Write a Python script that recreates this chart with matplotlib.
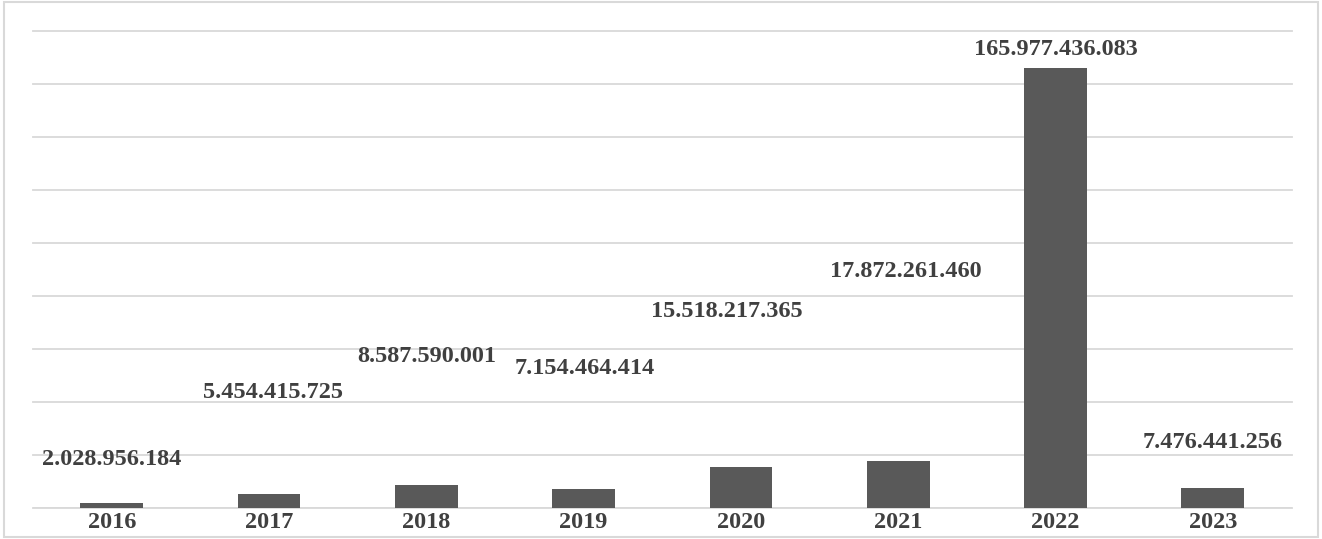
import matplotlib.pyplot as plt
from matplotlib.patches import Rectangle

years = ["2016", "2017", "2018", "2019", "2020", "2021", "2022", "2023"]
values = [2028956184, 5454415725, 8587590001, 7154464414,
          15518217365, 17872261460, 165977436083, 7476441256]

# where the data labels sit (moved by hand in the original chart)
label_x_shift = [0.0, 0.025, 0.0, 0.01, -0.09, 0.05, 0.0, 0.0]
label_y = [18.3e9, 43.5e9, 57.0e9, 52.5e9, 74.0e9, 89.4e9, 173.2e9, 24.9e9]


def fmt(v):
    return f"{v:,}".replace(",", ".")


plt.rcParams['font.family'] = ['Liberation Serif', 'DejaVu Serif']

fig = plt.figure(figsize=(13.22, 5.39), dpi=100)
ax = fig.add_axes([0.025, 0.0575, 0.952, 0.885])

x = range(len(years))
ax.bar(x, values, width=0.4, color="#595959", zorder=3)

for i, v in enumerate(values):
    ax.text(i + label_x_shift[i], label_y[i], fmt(v), ha="center", va="center",
            fontsize=17.5, fontweight="bold", color="#404040", zorder=4)

ax.set_xlim(-0.5, len(years) - 0.5)
ax.set_ylim(0, 180e9)
ax.set_yticks([i * 20e9 for i in range(10)])
ax.set_yticklabels([])
ax.tick_params(axis="y", length=0)
ax.set_xticks(list(x))
ax.set_xticklabels(years, fontsize=17.5, fontweight="bold", color="#404040")
ax.tick_params(axis="x", length=0, pad=3)
ax.grid(axis="y", color="#d9d9d9", linewidth=1.3, zorder=0)
for line in ax.get_ygridlines():
    line.set_clip_on(False)
for s in ax.spines.values():
    s.set_visible(False)
ax.axhline(0, color="#d9d9d9", linewidth=1.3, zorder=2)

fig.patches.append(Rectangle((0.003, 0.004), 0.994, 0.992, transform=fig.transFigure,
                             fill=False, edgecolor="#d9d9d9", linewidth=1.5))

fig.savefig("out.png", dpi=100)
